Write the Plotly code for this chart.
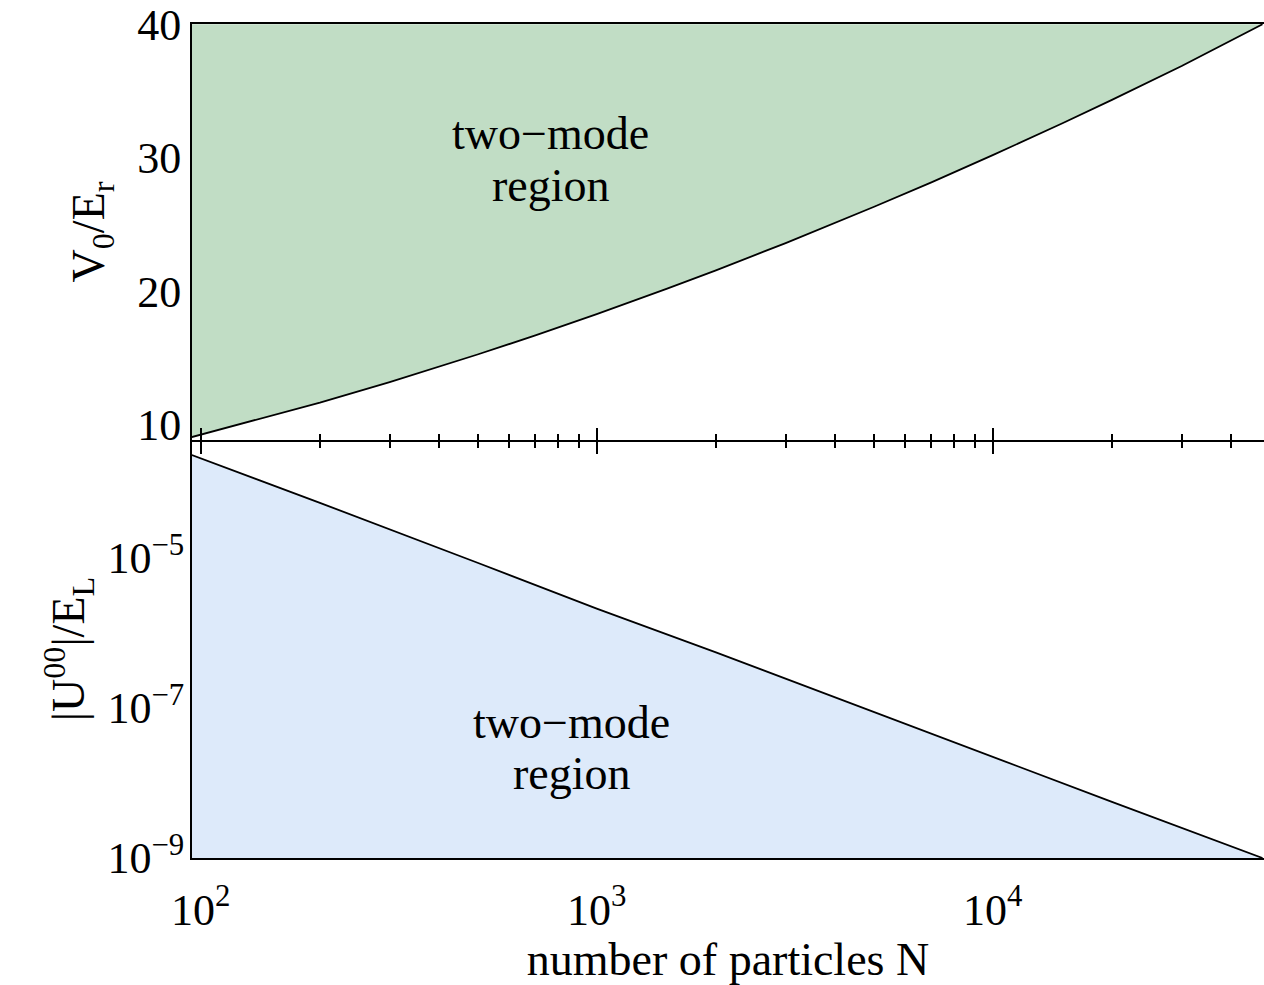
import plotly.graph_objects as go

# Number of particles N (shared log axis)
n_particles = [95, 150, 200, 300, 500, 700, 1000, 1500, 2000, 3000, 5000, 7000,
               10000, 15000, 20000, 30000, 48000]
# Lattice depth V0/Er at the two-mode boundary
v0_boundary = [9.1, 10.65, 11.68, 13.22, 15.28, 16.71, 18.3, 20.19, 21.58, 23.62, 26.32,
               28.17, 30.2, 32.59, 34.34, 36.88, 40.0]

# Interaction energy |U00|/EL at the two-mode boundary
n_particles_u = [95, 200, 500, 1000, 2000, 5000, 10000, 20000, 48000]
u00_boundary = [2.34e-4, 5.4e-5, 8.6e-6, 2.1e-6, 5.5e-7, 8.9e-8, 2.2e-8, 5.6e-9, 1.0e-9]

v0_top = 40.0          # upper edge of the top panel
u00_floor = 1e-10      # below the lower edge of the bottom panel

x_major = [100, 1000, 10000]
x_major_text = ["10<sup>2</sup>", "10<sup>3</sup>", "10<sup>4</sup>"]
x_minor = [m * d for d in (100, 1000, 10000) for m in range(2, 10) if m * d <= 48000]
y_top_ticks = [10, 20, 30, 40]
y_bot_ticks = [1e-9, 1e-7, 1e-5]
y_bot_text = ["10<sup>\u22129</sup>", "10<sup>\u22127</sup>", "10<sup>\u22125</sup>"]

GREEN = "rgb(193,221,197)"
BLUE = "rgb(221,234,250)"
FONT = "Liberation Serif"

fig = go.Figure()

# Top panel: shaded region above the boundary curve
fig.add_trace(go.Scatter(x=n_particles, y=[v0_top] * len(n_particles), mode="lines",
                         line=dict(width=0), xaxis="x", yaxis="y", hoverinfo="skip",
                         showlegend=False))
fig.add_trace(go.Scatter(x=n_particles, y=v0_boundary, mode="lines",
                         line=dict(color="black", width=1.8), fill="tonexty",
                         fillcolor=GREEN, xaxis="x", yaxis="y", showlegend=False))

# Bottom panel: shaded region below the boundary curve
fig.add_trace(go.Scatter(x=n_particles_u, y=[u00_floor] * len(n_particles_u), mode="lines",
                         line=dict(width=0), xaxis="x2", yaxis="y2", hoverinfo="skip",
                         showlegend=False))
fig.add_trace(go.Scatter(x=n_particles_u, y=u00_boundary, mode="lines",
                         line=dict(color="black", width=1.8), fill="tonexty",
                         fillcolor=BLUE, xaxis="x2", yaxis="y2", showlegend=False))

# empty trace so the upward-tick overlay axis is rendered
fig.add_trace(go.Scatter(x=[], y=[], xaxis="x3", yaxis="y", showlegend=False,
                         hoverinfo="skip"))

xrange = [1.978, 4.685]
split = 0.5012
TICKS = dict(tickwidth=1.5, tickcolor="black")

fig.update_layout(
    width=1264, height=985,
    margin=dict(l=192, r=0, t=24, b=127),
    paper_bgcolor="white", plot_bgcolor="rgba(0,0,0,0)",
    font=dict(family=FONT, size=44, color="black"),
    showlegend=False,
    # top panel x axis: line at the panel boundary with ticks pointing down
    xaxis=dict(type="log", range=xrange, domain=[0, 1], anchor="y",
               showline=True, linecolor="black", linewidth=2, mirror=True,
               showgrid=False, zeroline=False, showticklabels=False,
               ticks="outside", ticklen=12, tickvals=x_major, **TICKS,
               minor=dict(ticks="outside", ticklen=6, tickvals=x_minor,
                          showgrid=False, **TICKS)),
    # same ticks pointing up, so they cross the boundary line
    xaxis3=dict(type="log", range=xrange, overlaying="x", anchor="y",
                showline=False, showgrid=False, zeroline=False, showticklabels=False,
                ticks="inside", ticklen=12, tickvals=x_major, **TICKS,
                minor=dict(ticks="inside", ticklen=6, tickvals=x_minor,
                           showgrid=False, **TICKS)),
    yaxis=dict(range=[8.88, 40.02], domain=[split, 1], anchor="x",
               showline=True, linecolor="black", linewidth=2,
               showgrid=False, zeroline=False, ticks="",
               tickvals=y_top_ticks, ticklabelstandoff=0,
               title=dict(text="V<sub>0</sub>/E<sub>r</sub>", font=dict(size=46),
                          standoff=18)),
    xaxis2=dict(type="log", range=xrange, domain=[0, 1], anchor="y2",
                showline=True, linecolor="black", linewidth=2,
                showgrid=False, zeroline=False, ticks="",
                tickvals=x_major, ticktext=x_major_text, ticklabelstandoff=12,
                title=dict(text="number of particles N", font=dict(size=46),
                           standoff=4)),
    yaxis2=dict(type="log", range=[-9, -3.43], domain=[0, split], anchor="x2",
                showline=True, linecolor="black", linewidth=2,
                showgrid=False, zeroline=False, ticks="",
                tickvals=y_bot_ticks, ticktext=y_bot_text, ticklabelstandoff=-3,
                title=dict(text="|U<sup>00</sup>|/E<sub>L</sub>", font=dict(size=46),
                           standoff=8)),
    annotations=[
        dict(text="two\u2212mode", x=2.884, y=31.85, xref="x", yref="y",
             showarrow=False, font=dict(size=46, family=FONT)),
        dict(text="region", x=2.884, y=27.96, xref="x", yref="y",
             showarrow=False, font=dict(size=46, family=FONT)),
        dict(text="two\u2212mode", x=2.937, y=-7.19, xref="x2", yref="y2",
             showarrow=False, font=dict(size=46, family=FONT)),
        dict(text="region", x=2.937, y=-7.87, xref="x2", yref="y2",
             showarrow=False, font=dict(size=46, family=FONT)),
    ],
)

fig.write_html("out.html")
